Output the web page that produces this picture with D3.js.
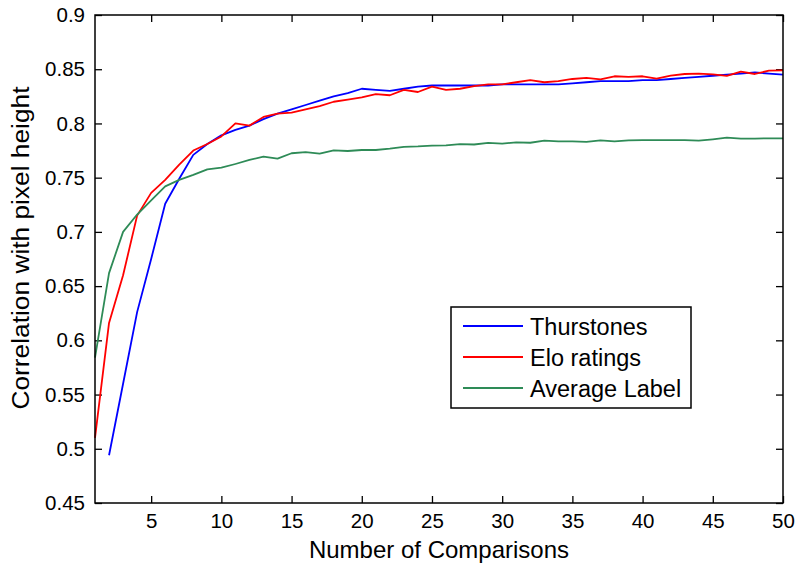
<!DOCTYPE html>
<html>
<head>
<meta charset="utf-8">
<script src="https://cdn.jsdelivr.net/npm/d3@7/dist/d3.min.js"></script>
<style>
  html, body { margin: 0; padding: 0; background: #fff; }
  svg { display: block; font-family: "Liberation Sans", Arial, Helvetica, sans-serif; }
</style>
</head>
<body>
<svg id="chart" width="799" height="565"></svg>
<script>
// Correlation with pixel height as the number of comparisons grows
const comparisons = d3.range(1, 51);

const thurstones = [
  null, 0.494, 0.560, 0.626, 0.675, 0.726, 0.749, 0.771, 0.781, 0.789,
  0.794, 0.798, 0.804, 0.809, 0.813, 0.817, 0.821, 0.825, 0.828, 0.832,
  0.831, 0.830, 0.832, 0.834, 0.835, 0.835, 0.835, 0.835, 0.835, 0.836,
  0.836, 0.836, 0.836, 0.836, 0.837, 0.838, 0.839, 0.839, 0.839, 0.840,
  0.840, 0.841, 0.842, 0.843, 0.844, 0.845, 0.846, 0.847, 0.846, 0.845
];

const eloRatings = [
  0.510, 0.616, 0.660, 0.715, 0.736, 0.748, 0.762, 0.775, 0.781, 0.788,
  0.800, 0.798, 0.806, 0.809, 0.810, 0.813, 0.816, 0.820, 0.822, 0.824,
  0.827, 0.826, 0.831, 0.829, 0.834, 0.831, 0.832, 0.8345, 0.836, 0.836,
  0.838, 0.840, 0.838, 0.839, 0.841, 0.842, 0.8407, 0.8435, 0.843, 0.8435,
  0.8413, 0.844, 0.8456, 0.846, 0.8453, 0.8438, 0.8477, 0.8456, 0.8487, 0.849
];

const averageLabel = [
  0.584, 0.662, 0.700, 0.716, 0.729, 0.742, 0.748, 0.7525, 0.7577, 0.7592,
  0.7626, 0.7663, 0.7694, 0.7675, 0.7725, 0.7735, 0.7721, 0.7752, 0.7746, 0.7755,
  0.7755, 0.7767, 0.7784, 0.7788, 0.7795, 0.7798, 0.781, 0.7806, 0.782, 0.7813,
  0.7826, 0.7822, 0.7841, 0.7835, 0.7835, 0.783, 0.7844, 0.7835, 0.7844, 0.7847,
  0.7847, 0.7847, 0.7847, 0.7841, 0.7854, 0.7869, 0.786, 0.786, 0.7863, 0.7863
];

const seriesNames = ["Thurstones", "Elo ratings", "Average Label"];
const seriesColors = ["#0000ff", "#ff0000", "#2e8b57"];
const xTicks = [5, 10, 15, 20, 25, 30, 35, 40, 45, 50];
const yTicks = [0.45, 0.5, 0.55, 0.6, 0.65, 0.7, 0.75, 0.8, 0.85, 0.9];
const xTitle = "Number of Comparisons";
const yTitle = "Correlation with pixel height";

const svg = d3.select("#chart");
const m = { left: 95, right: 783, top: 15, bottom: 503 };

const x = d3.scaleLinear().domain([1, 50]).range([m.left, m.right]);
const y = d3.scaleLinear().domain([0.45, 0.9]).range([m.bottom, m.top]);

const tickFont = "20.5px";
const tickLen = 7;

// Axes with inward ticks on all four sides (boxed frame)
const fmt = d => String(+d.toFixed(2));
const gBottom = svg.append("g").attr("transform", `translate(0,${m.bottom})`)
  .call(d3.axisBottom(x).tickValues(xTicks).tickSizeInner(-tickLen).tickSizeOuter(0).tickPadding(12).tickFormat(d3.format("d")));
const gTop = svg.append("g").attr("transform", `translate(0,${m.top})`)
  .call(d3.axisTop(x).tickValues(xTicks).tickSizeInner(-tickLen).tickSizeOuter(0).tickFormat(""));
const gLeft = svg.append("g").attr("transform", `translate(${m.left},0)`)
  .call(d3.axisLeft(y).tickValues(yTicks).tickSizeInner(-tickLen).tickSizeOuter(0).tickPadding(10).tickFormat(fmt));
const gRight = svg.append("g").attr("transform", `translate(${m.right},0)`)
  .call(d3.axisRight(y).tickValues(yTicks).tickSizeInner(-tickLen).tickSizeOuter(0).tickFormat(""));

[gBottom, gTop, gLeft, gRight].forEach(g => {
  g.select(".domain").remove();
  g.selectAll(".tick line").attr("stroke", "#000").attr("stroke-width", 1.3);
  g.selectAll(".tick text").attr("fill", "#000").style("font-size", tickFont)
    .style("font-family", "'Liberation Sans', Arial, sans-serif");
});
gBottom.selectAll(".tick text").attr("dy", "0.75em").attr("y", 10);

// Series lines
const line = d3.line()
  .defined(d => d[1] != null)
  .x(d => x(d[0]))
  .y(d => y(d[1]));

[thurstones, eloRatings, averageLabel].forEach((vals, i) => {
  svg.append("path")
    .datum(comparisons.map((c, j) => [c, vals[j]]))
    .attr("fill", "none")
    .attr("stroke", seriesColors[i])
    .attr("stroke-width", 1.8)
    .attr("stroke-linejoin", "round")
    .attr("d", line);
});

// Plot frame
svg.append("rect")
  .attr("x", m.left).attr("y", m.top)
  .attr("width", m.right - m.left).attr("height", m.bottom - m.top)
  .attr("fill", "none").attr("stroke", "#000").attr("stroke-width", 1.5);

// Axis titles
svg.append("text")
  .attr("x", (m.left + m.right) / 2).attr("y", 558)
  .attr("text-anchor", "middle")
  .style("font-size", "24px")
  .text(xTitle);

svg.append("text")
  .attr("transform", "translate(29,248) rotate(-90)")
  .attr("text-anchor", "middle")
  .style("font-size", "23px")
  .attr("textLength", 323)
  .attr("lengthAdjust", "spacingAndGlyphs")
  .text(yTitle);

// Legend
const lg = svg.append("g");
lg.append("rect")
  .attr("x", 451).attr("y", 307).attr("width", 240).attr("height", 101)
  .attr("fill", "#fff").attr("stroke", "#000").attr("stroke-width", 1.5);
const rowY = [326, 357, 388];
seriesNames.forEach((name, i) => {
  lg.append("line")
    .attr("x1", 463).attr("x2", 523)
    .attr("y1", rowY[i]).attr("y2", rowY[i])
    .attr("stroke", seriesColors[i]).attr("stroke-width", 1.8);
  lg.append("text")
    .attr("x", 530).attr("y", rowY[i] + 8.5)
    .style("font-size", "23.5px")
    .text(name);
});
</script>
</body>
</html>
